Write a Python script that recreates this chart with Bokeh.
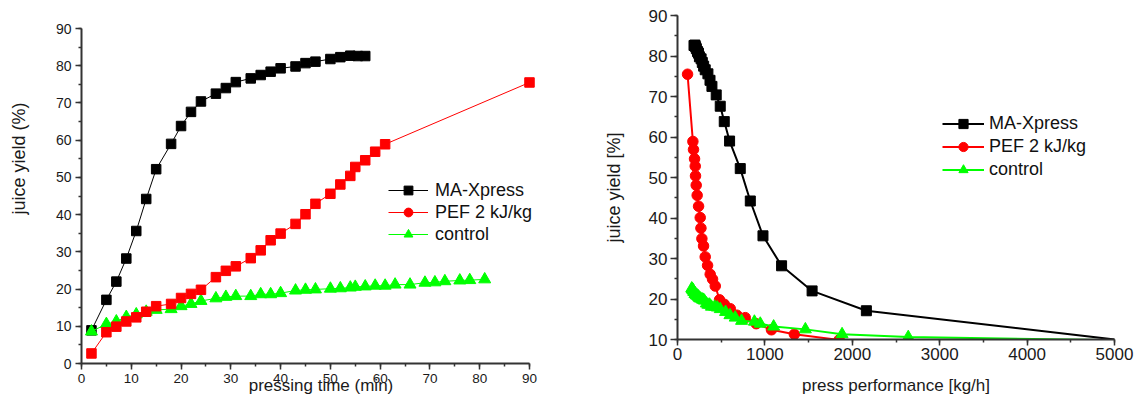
from bokeh.plotting import figure
from bokeh.models import Range1d, SingleIntervalTicker, Legend, LegendItem
from bokeh.embed import file_html
from bokeh.resources import INLINE

FONT = "Liberation Sans"
AXC = "#333333"
NBSP = "\u00a0"

# ---------------- data: juice yield (%) vs pressing time (min) ----------------
t_maxpress = [2, 5, 7, 9, 11, 13, 15, 18, 20, 22, 24, 27, 29, 31, 34, 36, 38, 40, 43, 45,
              47, 50, 52, 54, 55.5, 57]
y_maxpress = [8.9, 17.1, 22.0, 28.2, 35.6, 44.2, 52.2, 59.0, 63.8, 67.6, 70.4, 72.5, 74.0,
              75.6, 76.6, 77.5, 78.4, 79.3, 79.8, 80.7, 81.1, 81.8, 82.3, 82.7, 82.6, 82.6]

t_pef = [2, 5, 7, 9, 11, 13, 15, 18, 20, 22, 24, 27, 29, 31, 34, 36, 38, 40, 43, 45, 47,
         50, 52, 54, 55, 57, 59, 61, 90]
y_pef = [2.7, 8.4, 9.9, 11.3, 12.4, 13.9, 15.4, 16.0, 17.6, 18.7, 19.8, 23.2, 24.9, 26.1,
         28.3, 30.4, 33.1, 34.9, 37.5, 40.1, 42.9, 45.6, 48.1, 50.4, 52.8, 54.6, 56.9, 58.9, 75.5]

t_control = [2, 5, 7, 9, 11, 13, 15, 18, 20, 22, 24, 27, 29, 31, 34, 36, 38, 40, 43, 45,
             47, 50, 52, 54, 55, 57, 59, 61, 63, 66, 69, 71, 73, 76, 78, 81]
y_control = [8.6, 10.6, 11.3, 12.5, 13.2, 13.9, 14.4, 14.6, 15.4, 16.0, 16.8, 17.5, 17.9,
             18.1, 18.1, 18.6, 18.6, 18.9, 19.6, 19.8, 19.9, 20.1, 20.2, 20.4, 20.6, 20.7,
             20.9, 20.9, 21.2, 21.2, 21.7, 21.8, 22.1, 22.3, 22.4, 22.6]

# ---------------- data: juice yield [%] vs press performance [kg/h] ----------------
perf_maxpress = [5440, 2161, 1540, 1191, 978, 833, 718, 596, 535, 489, 443, 394, 372, 348,
                 317, 299, 284, 270, 251, 240, 229, 216, 207, 200, 194, 189]
perf_pef = [6500, 2600, 1850, 1337, 1075, 901, 775, 680, 604, 536, 481, 432, 401, 374, 344,
            317, 298, 279, 268, 260, 241, 225, 214, 206, 203, 195, 183, 176, 115]
perf_control = [8500, 2640, 1883, 1463, 1100, 947, 880, 733, 660, 600, 550, 489, 455, 426,
                388, 367, 347, 330, 307, 293, 281, 264, 254, 244, 240, 232, 224, 216, 210,
                200, 191, 186, 181, 174, 169, 163]

labels = ["MA-Xpress", "PEF 2 kJ/kg", "control"]
BLACK, RED, GREEN = "#000000", "#ff0000", "#00ff00"


def style_axes(p, tick_font, label_font):
    for ax in (p.xaxis[0], p.yaxis[0]):
        ax.axis_line_color = AXC
        ax.axis_line_width = 2
        ax.major_tick_line_color = AXC
        ax.major_tick_line_width = 1.5
        ax.minor_tick_line_color = AXC
        ax.minor_tick_line_width = 1.5
        ax.major_tick_in = 0
        ax.major_tick_out = 6
        ax.minor_tick_in = 0
        ax.minor_tick_out = 3
        ax.major_label_text_font = FONT
        ax.major_label_text_font_size = tick_font
        ax.major_label_text_color = "#1a1a1a"
        ax.axis_label_text_font = FONT
        ax.axis_label_text_font_size = label_font
        ax.axis_label_text_font_style = "normal"
        ax.axis_label_text_color = "#1a1a1a"


# ---------------- left figure ----------------
# frame spans 81..560 px; the axis itself is bounded to 0..90 (81..529 px)
p1 = figure(width=590, height=399, x_range=Range1d(0, 96.23), y_range=Range1d(0, 90),
            output_backend="svg", toolbar_location=None,
            min_border_left=81, min_border_right=30, min_border_top=28, min_border_bottom=36,
            x_axis_label="pressing time (min)",
            y_axis_label=NBSP * 15 + "juice yield (%)")
p1.grid.visible = False
p1.outline_line_color = None
p1.xaxis.ticker = SingleIntervalTicker(interval=10, num_minor_ticks=2)
p1.yaxis.ticker = SingleIntervalTicker(interval=10, num_minor_ticks=2)
p1.xaxis.bounds = (0, 90)
style_axes(p1, "14px", "17px")
p1.yaxis.axis_label_text_font_size = "18px"
p1.xaxis.major_label_text_font_size = "13.5px"
p1.xaxis.major_label_standoff = 4
p1.yaxis.major_label_standoff = 4
p1.xaxis.axis_label_standoff = -10
p1.yaxis.axis_label_standoff = 24

lb = p1.line(t_maxpress, y_maxpress, color=BLACK, line_width=1)
sb = p1.scatter(t_maxpress, y_maxpress, marker="square", size=9.5, color=BLACK)
lg = p1.line(t_control, y_control, color=GREEN, line_width=1)
sg = p1.scatter(t_control, y_control, marker="triangle", size=12, color=GREEN)
lr = p1.line(t_pef, y_pef, color=RED, line_width=1)
sr = p1.scatter(t_pef, y_pef, marker="square", size=9.5, color=RED)
sr_leg = p1.scatter([float("nan")], [float("nan")], marker="circle", size=10, color=RED)

leg1 = Legend(items=[LegendItem(label=labels[0], renderers=[lb, sb]),
                     LegendItem(label=labels[1], renderers=[lr, sr_leg]),
                     LegendItem(label=labels[2], renderers=[lg, sg])],
              location=(307, 118), background_fill_alpha=0, border_line_color=None,
              padding=0, margin=0, spacing=0, glyph_width=40, glyph_height=22,
              label_height=22, label_standoff=7, label_text_font=FONT,
              label_text_font_size="18px", label_text_color="#111111")
p1.add_layout(leg1)
p1.styles = {"position": "absolute", "left": "0px", "top": "0px"}

# ---------------- right figure ----------------
p2 = figure(width=545, height=399, x_range=Range1d(0, 5000), y_range=Range1d(10, 90),
            output_backend="svg", toolbar_location=None,
            min_border_left=87, min_border_right=21, min_border_top=15, min_border_bottom=60,
            x_axis_label="press performance [kg/h]",
            y_axis_label="juice yield [%]" + NBSP * 4)
p2.grid.visible = False
p2.outline_line_color = None
p2.xaxis.ticker = SingleIntervalTicker(interval=1000, num_minor_ticks=2)
p2.yaxis.ticker = SingleIntervalTicker(interval=10, num_minor_ticks=2)
style_axes(p2, "17px", "17px")
p2.yaxis.axis_label_text_font_size = "18px"
p2.yaxis.major_tick_out = 7
p2.xaxis.major_label_standoff = 2
p2.yaxis.major_label_standoff = 3
p2.xaxis.axis_label_standoff = 13
p2.yaxis.axis_label_standoff = 22

rb = p2.line(perf_maxpress, y_maxpress, color=BLACK, line_width=2)
rbs = p2.scatter(perf_maxpress, y_maxpress, marker="square", size=10, color=BLACK)
rr = p2.line(perf_pef, y_pef, color=RED, line_width=2)
rrs = p2.scatter(perf_pef, y_pef, marker="circle", size=10.5, color=RED)
rg = p2.line(perf_control, y_control, color=GREEN, line_width=2)
rgs = p2.scatter(perf_control, y_control, marker="triangle", size=12, color=GREEN)

leg2 = Legend(items=[LegendItem(label=labels[0], renderers=[rb, rbs]),
                     LegendItem(label=labels[1], renderers=[rr, rrs]),
                     LegendItem(label=labels[2], renderers=[rg, rgs])],
              location=(265, 158), background_fill_alpha=0, border_line_color=None,
              padding=0, margin=0, spacing=0, glyph_width=42, glyph_height=23,
              label_height=23, label_standoff=5, label_text_font=FONT,
              label_text_font_size="18px", label_text_color="#111111")
p2.add_layout(leg2)
p2.styles = {"position": "absolute", "left": "590px", "top": "0px"}

open("out.html", "w").write(file_html([p1, p2], INLINE))
